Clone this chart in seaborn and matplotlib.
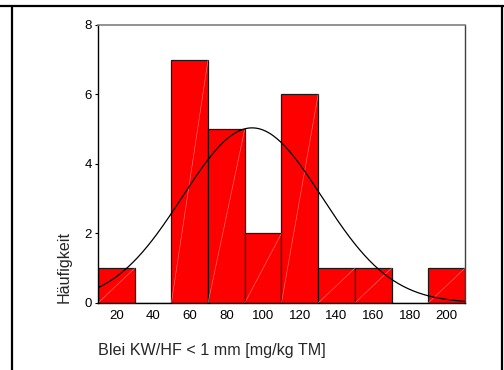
import numpy as np
import pandas as pd
import matplotlib
matplotlib.use("Agg")
import matplotlib.pyplot as plt
from matplotlib.lines import Line2D
import seaborn as sns

# Histogram bins (mg/kg TM) and frequencies
bin_edges = [10, 30, 50, 70, 90, 110, 130, 150, 170, 190, 210]
counts = [1, 0, 7, 5, 2, 6, 1, 1, 0, 1]
x_ticks = [20, 40, 60, 80, 100, 120, 140, 160, 180, 200]
y_ticks = [0, 2, 4, 6, 8]

# Fitted normal distribution
mean_val = 94.0
sd_val = 38.0

sns.set_style("white")
plt.rcParams["font.family"] = ["Liberation Sans", "DejaVu Sans"]

fig = plt.figure(figsize=(5.04, 3.70), dpi=100)
ax = fig.add_axes([0.1944, 0.1811, 0.728, 0.7514])

centers = [(a + b) / 2 for a, b in zip(bin_edges[:-1], bin_edges[1:])]
df = pd.DataFrame({"wert": centers, "n": counts})
sns.histplot(data=df, x="wert", weights="n", bins=bin_edges, ax=ax,
             color="#ff0000", alpha=1.0, edgecolor="#1a1a1a", linewidth=0.9)

# faint diagonal shading line inside each bar
for p in ax.patches:
    h = p.get_height()
    if h > 0:
        x0 = p.get_x()
        w = p.get_width()
        ax.plot([x0, x0 + w], [0, h], color="#ffb0b0", lw=0.4, alpha=0.7,
                zorder=p.get_zorder() + 0.1)

# normal curve scaled to the histogram
n_total = sum(counts)
bw = bin_edges[1] - bin_edges[0]
xs = np.linspace(bin_edges[0], bin_edges[-1], 300)
ys = n_total * bw / (sd_val * np.sqrt(2 * np.pi)) * np.exp(-0.5 * ((xs - mean_val) / sd_val) ** 2)
sns.lineplot(x=xs, y=ys, ax=ax, color="black", lw=0.9)

ax.set_xlim(bin_edges[0], bin_edges[-1])
ax.set_ylim(0, 8)
ax.set_xticks(x_ticks)
ax.set_yticks(y_ticks)
ax.tick_params(axis="x", length=0, pad=5, labelsize=9.5, colors="black")
ax.tick_params(axis="y", left=True, length=2.5, width=0.8, pad=2, labelsize=9.5, colors="black")

for side in ["left", "bottom"]:
    ax.spines[side].set_color("black")
    ax.spines[side].set_linewidth(1.0)
ax.spines["top"].set_color("#808080")
ax.spines["top"].set_linewidth(1.2)
ax.spines["right"].set_color("#404040")
ax.spines["right"].set_linewidth(1.0)

ax.set_ylabel("Häufigkeit", fontsize=11.6, loc="bottom")
ax.yaxis.set_label_coords(-0.072, 0.0)
ax.set_xlabel("Blei KW/HF < 1 mm [mg/kg TM]", fontsize=11.6, loc="left")
ax.xaxis.set_label_coords(0.0, -0.145)
ax.xaxis.label.set_verticalalignment("top")

# outer frame lines
fig.add_artist(Line2D([0, 1], [1 - 5.5 / 370, 1 - 5.5 / 370], color="black", lw=1.6, transform=fig.transFigure))
fig.add_artist(Line2D([12 / 504, 12 / 504], [0, 1 - 5.5 / 370], color="black", lw=1.6, transform=fig.transFigure))
fig.add_artist(Line2D([502 / 504, 502 / 504], [0, 1 - 5.5 / 370], color="black", lw=1.6, transform=fig.transFigure))

fig.savefig("out.png", dpi=100)
